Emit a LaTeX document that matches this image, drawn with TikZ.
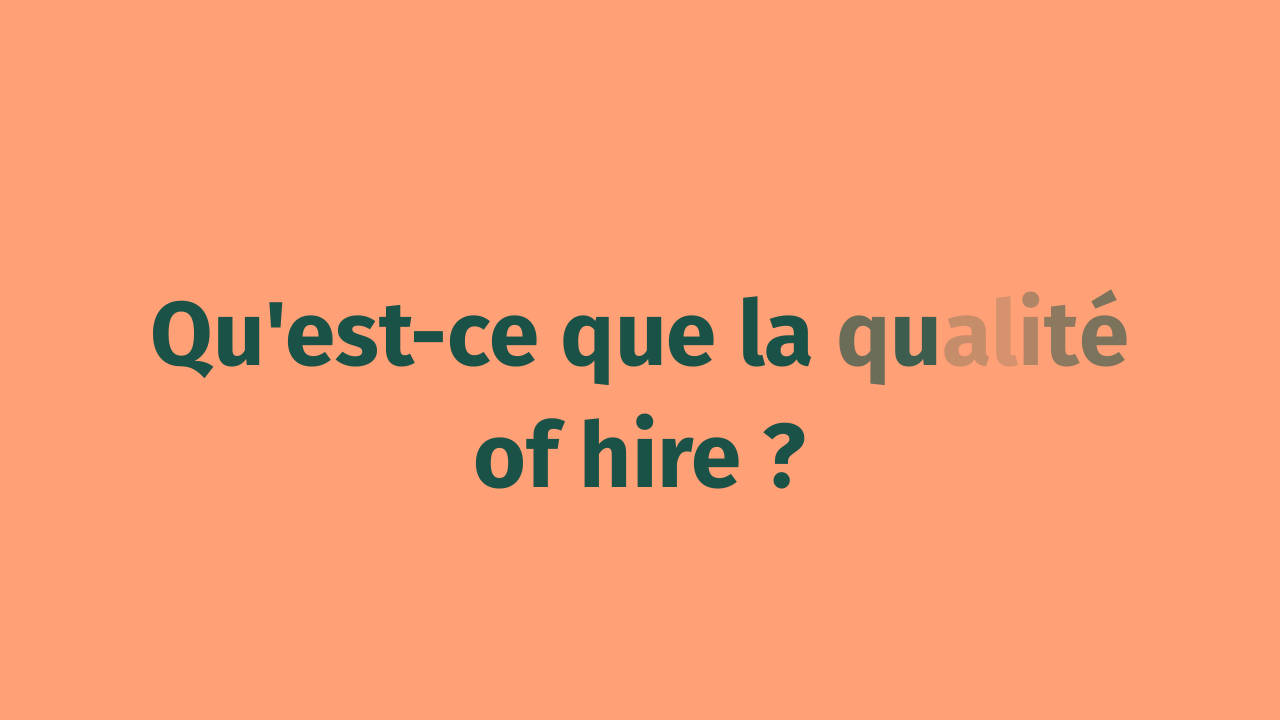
\documentclass[tikz,border=0pt]{standalone}
\usepackage{fontspec}
\newfontfamily\titlefont{Fira Sans}[BoldFont={Fira Sans Bold}]
\definecolor{bg}{RGB}{255,160,118}
\definecolor{tg}{RGB}{27,82,72}
\begin{document}
\begin{tikzpicture}[x=0.5pt,y=0.5pt,
  title/.style={font=\titlefont\fontsize{45.3}{55}\selectfont\bfseries, text=tg, anchor=base, inner sep=0pt}]
\fill[bg] (0,0) rectangle (1280,720);
\useasboundingbox (0,0) rectangle (1280,720);
\node[title] (l1) at (640,355) {Qu'est-ce que la {\color{tg!65!bg}q}{\color{tg!85!bg}u}{\color{tg!25!bg}a}{\color{tg!18!bg}l}{\color{tg!35!bg}i}{\color{tg!50!bg}t}{\color{tg!58!bg}é}};
\node[title] (l2) at (640,233) {of hire ?};
\end{tikzpicture}
\end{document}
